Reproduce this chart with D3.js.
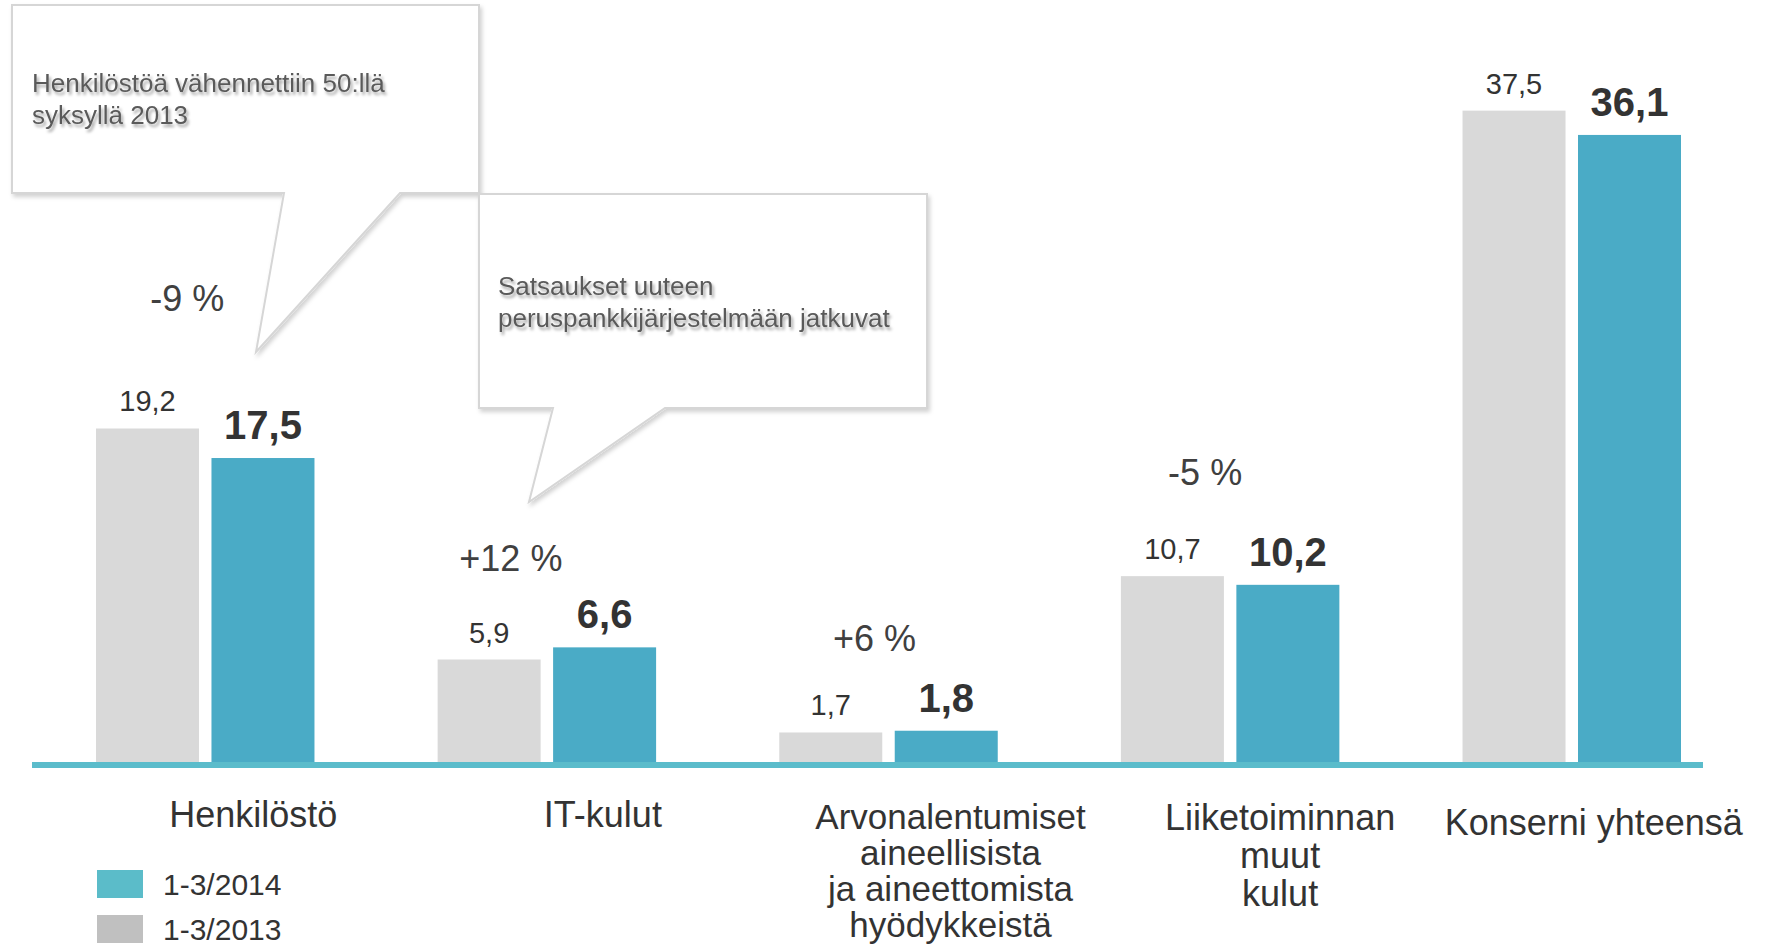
<!DOCTYPE html>
<html>
<head>
<meta charset="utf-8">
<script src="https://cdn.jsdelivr.net/npm/d3@7"></script>
<style>
  body { margin: 0; background: #fff; }
  svg { display: block; font-family: "Liberation Sans", Arial, sans-serif; }
</style>
</head>
<body>
<script>
// data
const categories = ["Henkilöstö", "IT-kulut", "Arvonalentumiset aineellisista ja aineettomista hyödykkeistä", "Liiketoiminnan muut kulut", "Konserni yhteensä"];
const categoryLines = [
  ["Henkilöstö"],
  ["IT-kulut"],
  ["Arvonalentumiset", "aineellisista", "ja aineettomista", "hyödykkeistä"],
  ["Liiketoiminnan", "muut", "kulut"],
  ["Konserni yhteensä"]
];
const series = ["1-3/2013", "1-3/2014"];
const values2013 = [19.2, 5.9, 1.7, 10.7, 37.5];
const values2014 = [17.5, 6.6, 1.8, 10.2, 36.1];
const changes = ["-9 %", "+12 %", "+6 %", "-5 %", null];
const legendOrder = ["1-3/2014", "1-3/2013"];
const note1 = ["Henkilöstöä vähennettiin 50:llä", "syksyllä 2013"];
const note2 = ["Satsaukset uuteen", "peruspankkijärjestelmään jatkuvat"];

// layout
const width = 1766;
const height = 952;
const baseY = 762;
const colors = { "1-3/2013": "#d9d9d9", "1-3/2014": "#4aabc6" };
const legendColors = { "1-3/2013": "#c0c0c0", "1-3/2014": "#5bbcc9" };
const changeShift = [[-18, -117], [-36, -76], [-14, -80], [-25, -91]];
// [dx from group centre, first baseline, line step, font size]
const labelShift = [[48, 827, 34, 36], [56, 827, 34, 36], [62, 829, 36, 35], [50, 830, 38, 36], [22, 835, 34, 36]];

const fmt = d3.formatLocale({ decimal: ",", thousands: " ", grouping: [3], currency: ["", " €"] }).format(".1f");

const svg = d3.select("body").append("svg")
    .attr("width", width)
    .attr("height", height)
    .attr("font-family", "'Liberation Sans', Arial, sans-serif");

const defs = svg.append("defs");
defs.append("filter").attr("id", "boxShadow")
    .attr("x", "-10%").attr("y", "-10%").attr("width", "120%").attr("height", "130%")
    .append("feDropShadow")
    .attr("dx", 2).attr("dy", 3).attr("stdDeviation", 2)
    .attr("flood-color", "#000").attr("flood-opacity", 0.18);
defs.append("filter").attr("id", "textShadow")
    .attr("x", "-10%").attr("y", "-30%").attr("width", "120%").attr("height", "180%")
    .append("feDropShadow")
    .attr("dx", 2).attr("dy", 3).attr("stdDeviation", 1.6)
    .attr("flood-color", "#000").attr("flood-opacity", 0.35);

const x0 = d3.scaleBand()
    .domain(categories)
    .range([96, 1681])
    .paddingInner(0.3605)
    .paddingOuter(0);

const x1 = d3.scaleBand()
    .domain(series)
    .range([0, x0.bandwidth()])
    .paddingInner(0.108);

const y = d3.scaleLinear()
    .domain([0, 40])
    .range([baseY, baseY - 40 * 17.37]);

const rows = categories.map((c, i) => ({
    cat: c,
    i: i,
    vals: [
        { key: "1-3/2013", v: values2013[i] },
        { key: "1-3/2014", v: values2014[i] }
    ]
}));

// callouts
function callout(pts, lines, tx, ty, lh) {
    const g = svg.append("g");
    g.append("path")
        .attr("d", d3.line()(pts) + "Z")
        .attr("fill", "#fff")
        .attr("stroke", "#d6d6d6")
        .attr("stroke-width", 2)
        .attr("filter", "url(#boxShadow)");
    const t = g.append("text")
        .attr("x", tx).attr("y", ty)
        .attr("font-size", 26)
        .attr("fill", "#5a5a5a")
        .attr("filter", "url(#textShadow)");
    lines.forEach((l, k) => t.append("tspan").attr("x", tx).attr("y", ty + k * lh).text(l));
}

callout([[12, 5], [479, 5], [479, 193], [400, 193], [256, 352], [284, 193], [12, 193]],
    note1, 32, 92, 32);
callout([[479, 194], [927, 194], [927, 408], [665, 408], [529, 502], [553, 408], [479, 408]],
    note2, 498, 295, 32);

// bars
const groups = svg.selectAll("g.group")
    .data(rows)
    .enter()
    .append("g")
    .attr("class", "group")
    .attr("transform", d => `translate(${x0(d.cat)},0)`);

groups.selectAll("rect")
    .data(d => d.vals)
    .enter()
    .append("rect")
    .attr("x", d => x1(d.key))
    .attr("y", d => y(d.v))
    .attr("width", x1.bandwidth())
    .attr("height", d => y(0) - y(d.v))
    .attr("fill", d => colors[d.key]);

groups.selectAll("text.val")
    .data(d => d.vals)
    .enter()
    .append("text")
    .attr("class", "val")
    .attr("x", d => x1(d.key) + x1.bandwidth() / 2)
    .attr("y", d => y(d.v) - (d.key === "1-3/2014" ? 19 : 17))
    .attr("text-anchor", "middle")
    .attr("font-size", d => d.key === "1-3/2014" ? 40 : 29)
    .attr("font-weight", d => d.key === "1-3/2014" ? "bold" : "normal")
    .attr("fill", "#333")
    .text(d => fmt(d.v));

// change labels
groups.filter(d => changes[d.i])
    .append("text")
    .attr("x", d => x0.bandwidth() / 2 + changeShift[d.i][0])
    .attr("y", d => y(d3.max(d.vals, v => v.v)) + changeShift[d.i][1])
    .attr("text-anchor", "middle")
    .attr("font-size", 36)
    .attr("fill", "#404040")
    .text(d => changes[d.i]);

// baseline
svg.append("line")
    .attr("x1", 32).attr("x2", 1703)
    .attr("y1", baseY + 3).attr("y2", baseY + 3)
    .attr("stroke", "#5bbccb")
    .attr("stroke-width", 6);

// category labels
rows.forEach(d => {
    const s = labelShift[d.i];
    const cx = x0(d.cat) + x0.bandwidth() / 2 + s[0];
    const t = svg.append("text")
        .attr("text-anchor", "middle")
        .attr("font-size", s[3])
        .attr("fill", "#333");
    categoryLines[d.i].forEach((l, k) => {
        t.append("tspan").attr("x", cx).attr("y", s[1] + k * s[2]).text(l);
    });
});

// legend
const legend = svg.append("g").attr("transform", "translate(97,870)");
legendOrder.forEach((k, i) => {
    legend.append("rect")
        .attr("x", 0).attr("y", i * 45)
        .attr("width", 46).attr("height", 28)
        .attr("fill", legendColors[k]);
    legend.append("text")
        .attr("x", 66).attr("y", i * 45 + 25)
        .attr("font-size", 30)
        .attr("fill", "#333")
        .text(k);
});
</script>
</body>
</html>
